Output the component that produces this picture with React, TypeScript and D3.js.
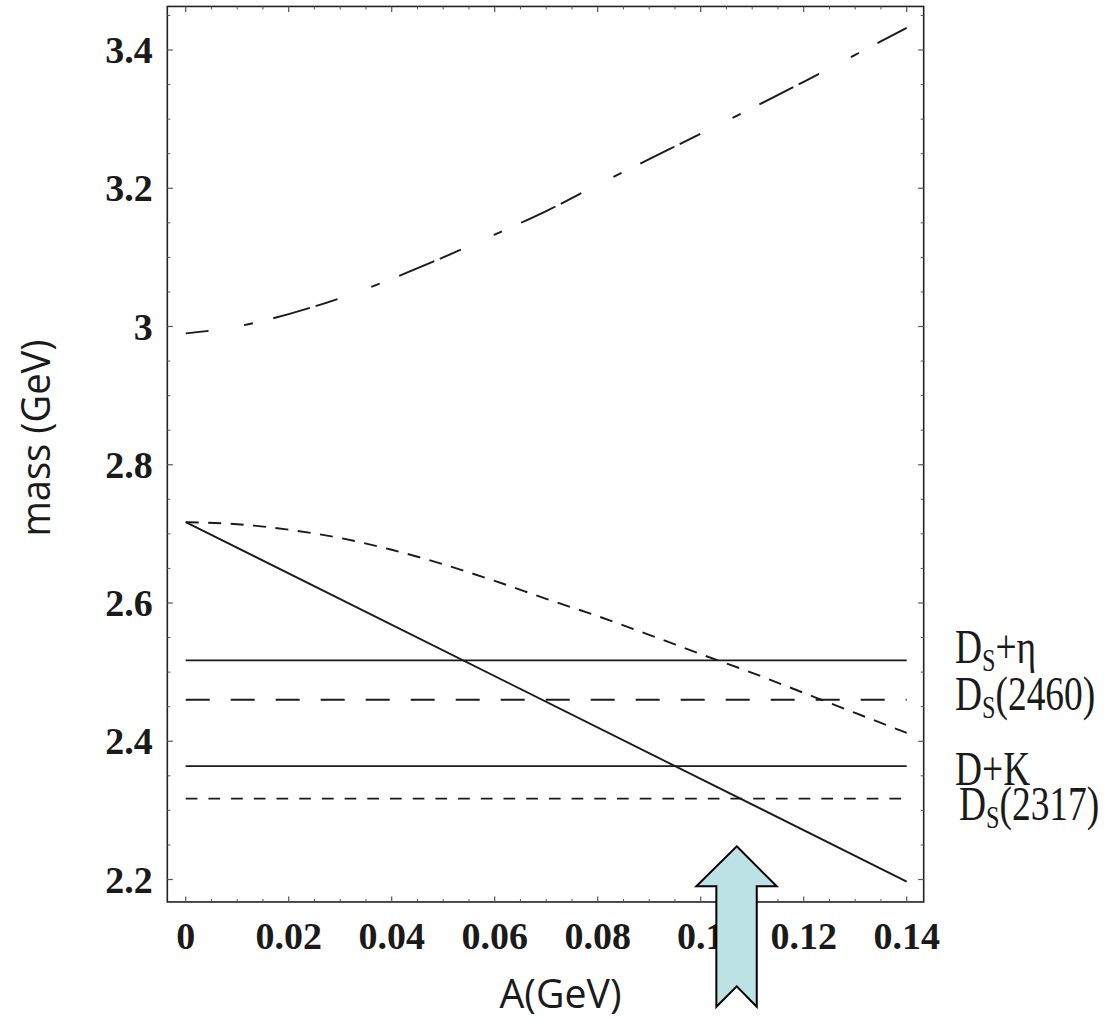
import React from 'react';
import * as d3 from 'd3';

// ---------- data ----------
const aGrid = [0, 0.01, 0.02, 0.03, 0.04, 0.05, 0.06, 0.07, 0.08, 0.09, 0.1, 0.11, 0.12, 0.13, 0.14];
const upperMass = [2.99, 3.0, 3.018, 3.041, 3.069, 3.1, 3.133, 3.167, 3.205, 3.242, 3.279, 3.316, 3.354, 3.393, 3.432];
const dashedMass = [2.717, 2.714, 2.706, 2.694, 2.677, 2.656, 2.632, 2.606, 2.581, 2.554, 2.526, 2.499, 2.47, 2.441, 2.412];
const lineA = [0, 0.14];
const lineMass = [2.717, 2.197];

const thresholdMass = [2.517, 2.46, 2.364, 2.317];
const thresholdMain = ['D', 'D', 'D+K', 'D'];
const thresholdSub = ['S', 'S', '', 'S'];
const thresholdRest = ['+η', '(2460)', '', '(2317)'];

const xTicks = [0, 0.02, 0.04, 0.06, 0.08, 0.1, 0.12, 0.14];
const xTickLabels = ['0', '0.02', '0.04', '0.06', '0.08', '0.1', '0.12', '0.14'];
const yTicks = [2.2, 2.4, 2.6, 2.8, 3.0, 3.2, 3.4];
const yTickLabels = ['2.2', '2.4', '2.6', '2.8', '3', '3.2', '3.4'];

const arrowA = 0.107;
const arrowTipMass = 2.248;

// ---------- layout ----------
const W = 1116;
const H = 1020;
const xDomainMin = -0.00357;
const xDomainMax = 0.1433;
const yDomainMin = 2.1675;
const yDomainMax = 3.463;

const x = d3.scaleLinear().domain([0, 0.14]).range([185.7, 906.7]);
const y = d3.scaleLinear().domain([2.2, 3.4]).range([879.5, 50]);

const thresholdDash = [null, '24 21', null, '11.7 11'];
const labelX = [955, 955, 955, 959];
const labelBaseline = [663.3, 710, 785, 820];

export default function App() {
  const left = x(xDomainMin);
  const right = x(xDomainMax);
  const top = y(yDomainMax);
  const bottom = y(yDomainMin);

  const line = d3
    .line<number>()
    .x((_, i) => x(aGrid[i]))
    .y((d) => y(d))
    .curve(d3.curveMonotoneX);

  const straight = d3
    .line<number>()
    .x((_, i) => x(lineA[i]))
    .y((d) => y(d));

  const minorX = d3.range(0, 0.14 + 1e-9, 0.005).filter((v) => Math.abs(Math.round(v / 0.02) * 0.02 - v) > 1e-6);
  const minorY = d3.range(2.2, 3.45 + 1e-9, 0.05).filter((v) => v <= yDomainMax && Math.abs(Math.round(v / 0.2) * 0.2 - v) > 1e-6);
  const minorYBelow = [2.2 - 0.05].filter((v) => v >= yDomainMin);
  const allMinorY = [...minorYBelow, ...minorY];

  const majorLen = 5.5;
  const minorLen = 3;
  const tickColor = '#555';

  const ax = x(arrowA);
  const ay = y(arrowTipMass);
  const arrowPts = [
    [ax, ay],
    [ax + 40, ay + 40],
    [ax + 20, ay + 40],
    [ax + 20, ay + 160.4],
    [ax, ay + 140],
    [ax - 20.4, ay + 160.4],
    [ax - 20.4, ay + 40],
    [ax - 40.4, ay + 40],
  ]
    .map((p) => p.join(','))
    .join(' ');

  return (
    <svg
      width={W}
      height={H}
      viewBox={`0 0 ${W} ${H}`}
      style={{ position: 'absolute', left: 0, top: 0, background: '#fff' }}
    >
      {/* curves */}
      <path
        d={line(upperMass) || ''}
        fill="none"
        stroke="#1a1a1a"
        strokeWidth={1.9}
        strokeDasharray="23 36 9 21 38 6"
      />
      <path
        d={line(dashedMass) || ''}
        fill="none"
        stroke="#1a1a1a"
        strokeWidth={1.9}
        strokeDasharray="13 9.5"
      />
      <path d={straight(lineMass) || ''} fill="none" stroke="#1a1a1a" strokeWidth={1.9} />

      {thresholdMass.map((m, i) => (
        <line
          key={'t' + i}
          x1={x(0)}
          x2={x(0.14)}
          y1={y(m)}
          y2={y(m)}
          stroke="#1a1a1a"
          strokeWidth={1.9}
          strokeDasharray={thresholdDash[i] || undefined}
        />
      ))}

      {/* frame */}
      <rect x={left} y={top} width={right - left} height={bottom - top} fill="none" stroke="#222" strokeWidth={1.6} />

      {/* x ticks */}
      {xTicks.map((t, i) => (
        <g key={'xt' + i}>
          <line x1={x(t)} x2={x(t)} y1={bottom} y2={bottom - majorLen} stroke={tickColor} strokeWidth={1.2} />
          <line x1={x(t)} x2={x(t)} y1={top} y2={top + majorLen} stroke={tickColor} strokeWidth={1.2} />
          <text
            x={x(t)}
            y={949}
            textAnchor="middle"
            fontFamily="'Liberation Serif', 'Times New Roman', serif"
            fontWeight="bold"
            fontSize={38}
            fill="#1a1a1a"
          >
            {xTickLabels[i]}
          </text>
        </g>
      ))}
      {minorX.map((t, i) => (
        <g key={'xm' + i}>
          <line x1={x(t)} x2={x(t)} y1={bottom} y2={bottom - minorLen} stroke={tickColor} strokeWidth={1} />
          <line x1={x(t)} x2={x(t)} y1={top} y2={top + minorLen} stroke={tickColor} strokeWidth={1} />
        </g>
      ))}

      {/* y ticks */}
      {yTicks.map((t, i) => (
        <g key={'yt' + i}>
          <line x1={left} x2={left + majorLen} y1={y(t)} y2={y(t)} stroke={tickColor} strokeWidth={1.2} />
          <line x1={right} x2={right - majorLen} y1={y(t)} y2={y(t)} stroke={tickColor} strokeWidth={1.2} />
          <text
            x={152.7}
            y={y(t) + 13}
            textAnchor="end"
            fontFamily="'Liberation Serif', 'Times New Roman', serif"
            fontWeight="bold"
            fontSize={38}
            fill="#1a1a1a"
          >
            {yTickLabels[i]}
          </text>
        </g>
      ))}
      {allMinorY.map((t, i) => (
        <g key={'ym' + i}>
          <line x1={left} x2={left + minorLen} y1={y(t)} y2={y(t)} stroke={tickColor} strokeWidth={1} />
          <line x1={right} x2={right - minorLen} y1={y(t)} y2={y(t)} stroke={tickColor} strokeWidth={1} />
        </g>
      ))}

      {/* threshold labels */}
      {thresholdMass.map((_, i) => (
        <g key={'lab' + i} transform={`translate(${labelX[i]},${labelBaseline[i]}) scale(0.78,1)`}>
          <text x={0} y={0} fontFamily="'Liberation Serif', 'Times New Roman', serif" fontSize={48} fill="#1a1a1a">
            {thresholdMain[i]}
            {thresholdSub[i] ? (
              <tspan fontSize={31} dy={8}>
                {thresholdSub[i]}
              </tspan>
            ) : null}
            {thresholdRest[i] ? <tspan dy={thresholdSub[i] ? -8 : 0}>{thresholdRest[i]}</tspan> : null}
          </text>
        </g>
      ))}

      {/* axis titles */}
      <text
        x={560.5}
        y={1008}
        textAnchor="middle"
        fontFamily="'Open Sans', 'Noto Sans', sans-serif"
        fontSize={40}
        textLength={122}
        lengthAdjust="spacingAndGlyphs"
        fill="#1a1a1a"
      >
        A(GeV)
      </text>
      <text
        transform={`translate(50,438) rotate(-90)`}
        textAnchor="middle"
        fontFamily="'Open Sans', 'Noto Sans', sans-serif"
        fontSize={40}
        textLength={197}
        lengthAdjust="spacingAndGlyphs"
        fill="#1a1a1a"
      >
        mass (GeV)
      </text>

      {/* arrow */}
      <polygon points={arrowPts} fill="#bde2e5" stroke="#000" strokeWidth={2} strokeLinejoin="miter" />
    </svg>
  );
}
